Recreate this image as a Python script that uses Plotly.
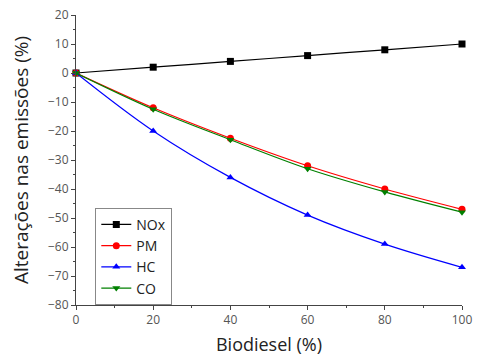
import plotly.graph_objects as go

biodiesel = [0, 20, 40, 60, 80, 100]
nox = [0, 2, 4, 6, 8, 10]
pm = [0, -12, -22.5, -32, -40, -47]
hc = [0, -20, -36, -49, -59, -67]
co = [0, -12.5, -23, -33, -41, -48]

series = [
    ("NOx", nox, "black", "square"),
    ("PM", pm, "red", "circle"),
    ("HC", hc, "blue", "triangle-up"),
    ("CO", co, "green", "triangle-down"),
]

fig = go.Figure()
for name, vals, color, sym in series:
    fig.add_trace(go.Scatter(
        x=biodiesel, y=vals, name=name, mode="lines+markers",
        line=dict(color=color, width=1.2, shape="spline"),
        marker=dict(symbol=sym, size=7, color=color),
        cliponaxis=False,
    ))

fig.update_layout(
    width=478, height=357,
    margin=dict(l=76, r=16, t=15, b=52, autoexpand=False),
    paper_bgcolor="white", plot_bgcolor="white",
    font=dict(family="Open Sans", color="#333"),
    legend=dict(
        x=0.05, y=0.335, xanchor="left", yanchor="top",
        bordercolor="#888", borderwidth=1, bgcolor="white",
        font=dict(size=14, color="#222"),
        tracegroupgap=0, itemwidth=30,
    ),
    showlegend=True,
)
fig.update_xaxes(
    range=[0, 100], dtick=20, showgrid=False, zeroline=False, automargin=False,
    showline=True, linecolor="#444", linewidth=1,
    ticks="outside", ticklen=4, tickcolor="#444",
    minor=dict(dtick=10, ticks="outside", ticklen=2, tickcolor="#444"),
    tickfont=dict(size=12, color="#555"),
    title=dict(text="Biodiesel (%)", font=dict(size=18, color="#222"), standoff=10),
)
fig.update_yaxes(
    range=[-80, 20], dtick=10, showgrid=False, zeroline=False, automargin=False,
    showline=True, linecolor="#444", linewidth=1,
    ticks="outside", ticklen=4, tickcolor="#444",
    minor=dict(dtick=5, ticks="outside", ticklen=2, tickcolor="#444"),
    tickfont=dict(size=12, color="#555"),
    title=dict(text="Alterações nas emissões (%)", font=dict(size=19, color="#222"), standoff=14),
)

fig.write_html("out.html")
